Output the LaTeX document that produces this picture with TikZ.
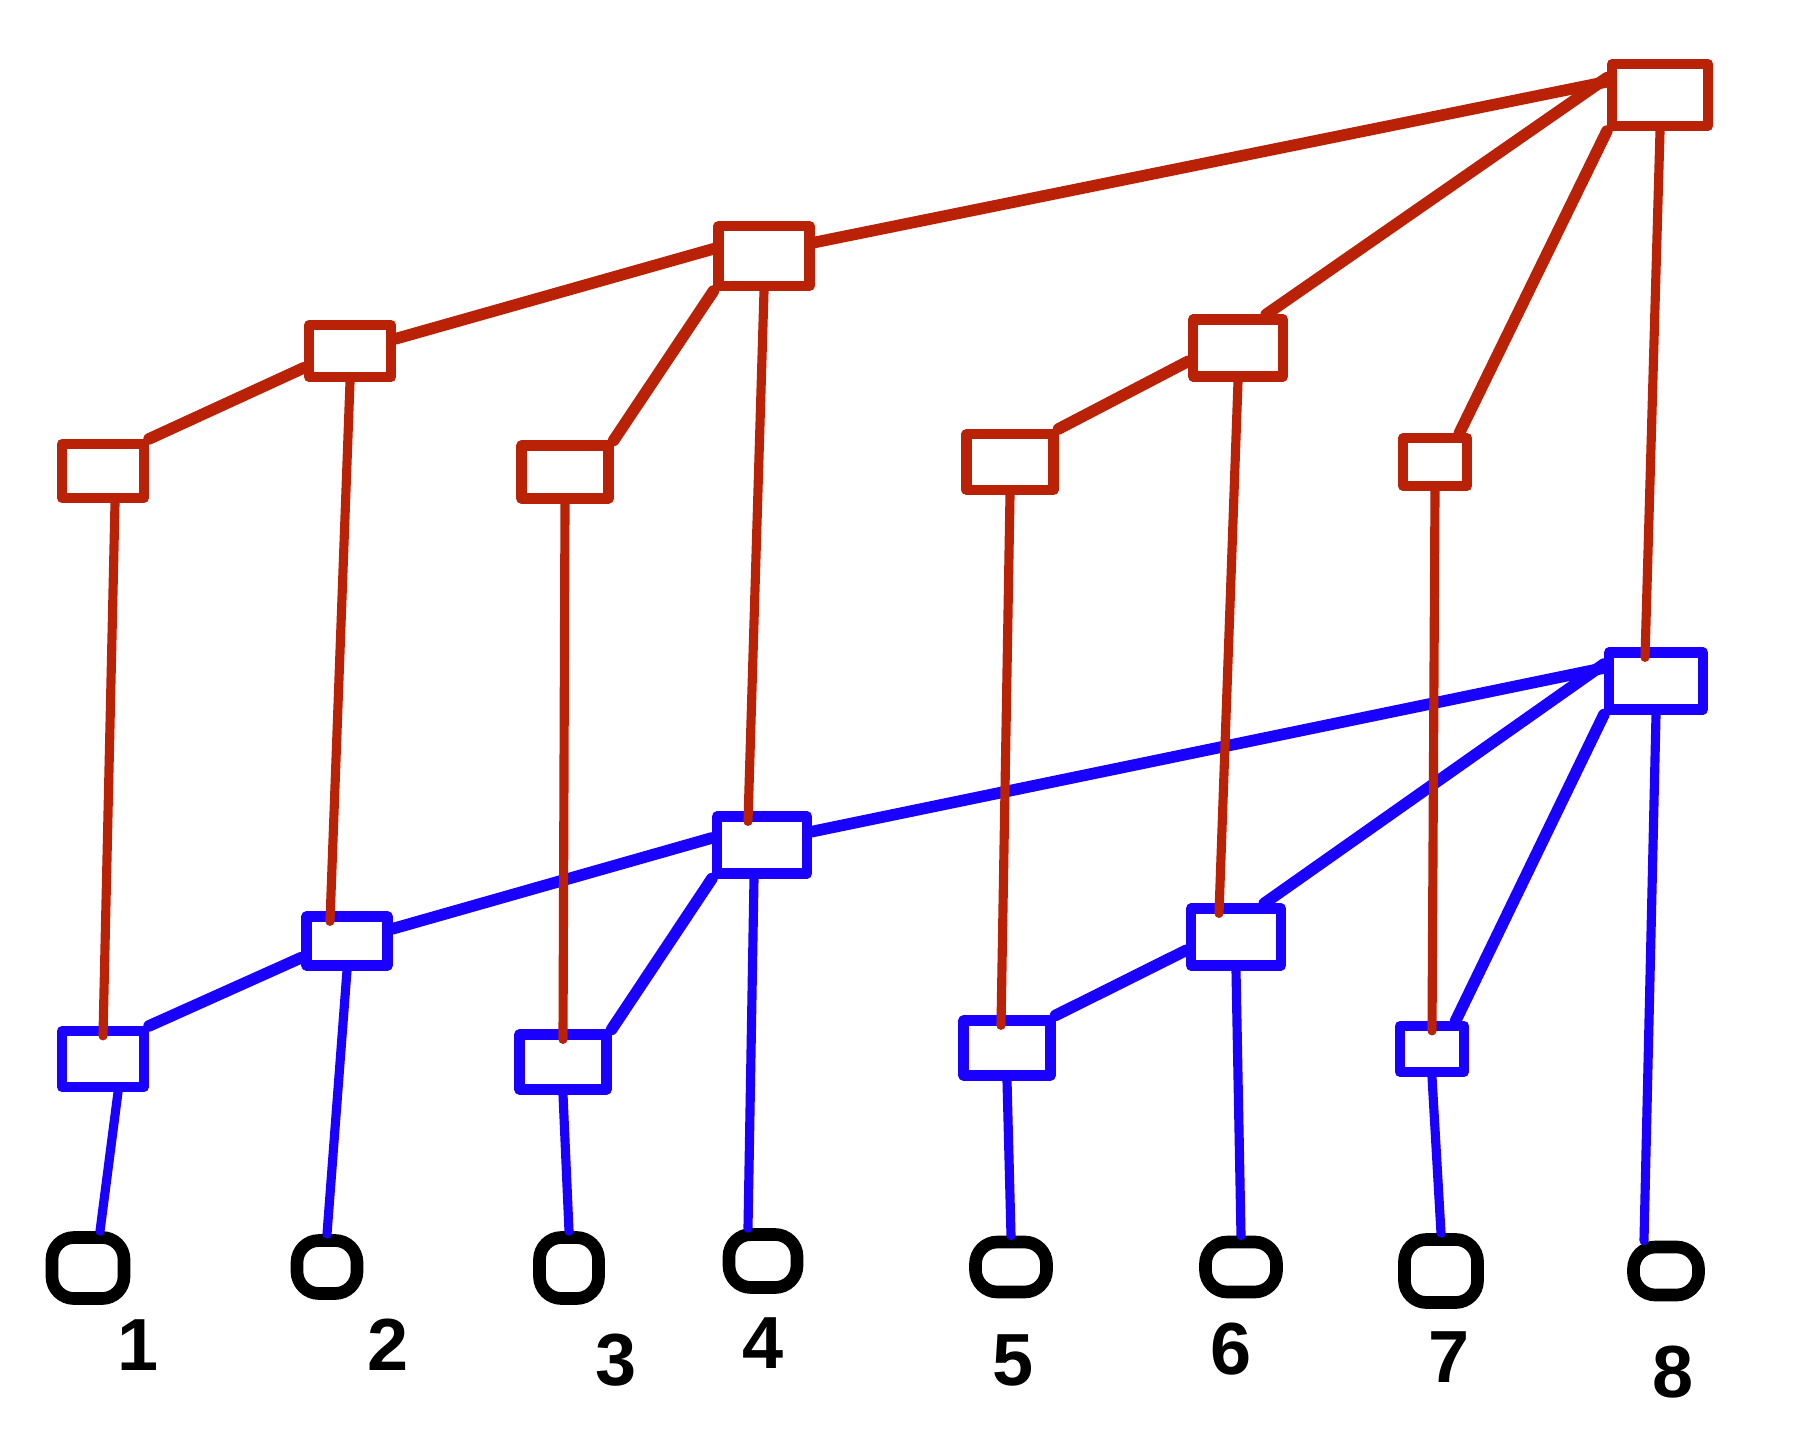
\documentclass[tikz,border=0pt]{standalone}
\usepackage{fontspec}
\setmainfont{Liberation Sans}
\usetikzlibrary{shapes.geometric}
\definecolor{tred}{RGB}{185,34,6}
\definecolor{tblue}{RGB}{26,0,255}
\begin{document}
\begin{tikzpicture}[x=0.01cm,y=-0.01cm,
  bluebox/.style={draw=tblue, line width=2.9pt, inner sep=0pt, line join=round},
  redbox/.style={draw=tred, line width=2.9pt, inner sep=0pt, line join=round},
  leaf/.style={rectangle, rounded corners=0.22cm, draw=black, line width=3.6pt, inner sep=0pt},
  lbl/.style={font=\fontsize{21}{24}\selectfont\bfseries, inner sep=0pt},
  bedge/.style={draw=tblue, line width=3.3pt, line cap=round},
  redge/.style={draw=tred, line width=3.3pt, line cap=round},
  bvert/.style={draw=tblue, line width=2.6pt, line cap=round},
  rvert/.style={draw=tred, line width=2.6pt, line cap=round},
]
\useasboundingbox (0,0) rectangle (1800,1440);

% blue boxes
\node[bluebox, minimum width=0.82cm, minimum height=0.56cm] (b1) at (103,1059) {};
\node[bluebox, minimum width=0.81cm, minimum height=0.49cm] (b2) at (347,941) {};
\node[bluebox, minimum width=0.87cm, minimum height=0.55cm] (b3) at (563,1062) {};
\node[bluebox, minimum width=0.90cm, minimum height=0.57cm] (b4) at (762,845) {};
\node[bluebox, minimum width=0.87cm, minimum height=0.55cm] (b5) at (1007,1048) {};
\node[bluebox, minimum width=0.90cm, minimum height=0.57cm] (b6) at (1236,937) {};
\node[bluebox, minimum width=0.64cm, minimum height=0.46cm] (b7) at (1432,1049) {};
\node[bluebox, minimum width=0.94cm, minimum height=0.57cm] (b8) at (1656,681) {};

% red boxes
\node[redbox, minimum width=0.82cm, minimum height=0.54cm] (r1) at (103,471) {};
\node[redbox, minimum width=0.82cm, minimum height=0.52cm] (r2) at (350,351) {};
\node[redbox, minimum width=0.87cm, minimum height=0.53cm] (r3) at (565,472) {};
\node[redbox, minimum width=0.91cm, minimum height=0.60cm] (r4) at (764,256) {};
\node[redbox, minimum width=0.87cm, minimum height=0.56cm] (r5) at (1010,462) {};
\node[redbox, minimum width=0.90cm, minimum height=0.57cm] (r6) at (1238,348) {};
\node[redbox, minimum width=0.64cm, minimum height=0.48cm] (r7) at (1435,462) {};
\node[redbox, minimum width=0.96cm, minimum height=0.62cm] (r8) at (1660,95) {};

% leaves
\node[leaf, minimum width=0.72cm, minimum height=0.61cm] (c1) at (88,1268) {};
\node[leaf, minimum width=0.60cm, minimum height=0.53cm] (c2) at (327,1267) {};
\node[leaf, minimum width=0.59cm, minimum height=0.61cm] (c3) at (569,1268) {};
\node[leaf, minimum width=0.68cm, minimum height=0.53cm] (c4) at (763,1261) {};
\node[leaf, minimum width=0.71cm, minimum height=0.50cm] (c5) at (1011,1267) {};
\node[leaf, minimum width=0.71cm, minimum height=0.50cm] (c6) at (1241,1267) {};
\node[leaf, minimum width=0.73cm, minimum height=0.63cm] (c7) at (1441,1271) {};
\node[leaf, minimum width=0.65cm, minimum height=0.48cm] (c8) at (1666,1271) {};

% labels
\node[lbl] (l1) at (138,1345) {1};
\node[lbl] (l2) at (388,1345) {2};
\node[lbl] (l3) at (616,1360) {3};
\node[lbl] (l4) at (763,1343) {4};
\node[lbl] (l5) at (1013,1360) {5};
\node[lbl] (l6) at (1231,1349) {6};
\node[lbl] (l7) at (1449,1357) {7};
\node[lbl] (l8) at (1673,1372) {8};

% blue tree edges
\draw[bedge] (b1.north east) -- (b2.200);
\draw[bedge] (b2.15) -- (b4.172);
\draw[bedge] (b3.north east) -- (b4.south west);
\draw[bedge] (b4.15) -- (b8.166);
\draw[bedge] (b5.north east) -- (b6.195);
\draw[bedge] (b6.50) -- (b8.162);
\draw[bedge] (b7.50) -- (b8.south west);

% blue leaf edges
\draw[bvert] ([xshift=0.15cm]b1.south) -- ([xshift=0.12cm]c1.north);
\draw[bvert] (b2.south) -- (c2.north);
\draw[bvert] (b3.south) -- (c3.north);
\draw[bvert] ([xshift=-0.08cm]b4.south) -- ([xshift=-0.15cm]c4.north);
\draw[bvert] (b5.south) -- (c5.north);
\draw[bvert] (b6.south) -- (c6.north);
\draw[bvert] (b7.south) -- (c7.north);
\draw[bvert] (b8.south) -- ([xshift=-0.22cm]c8.north);

% red tree edges
\draw[redge] (r1.north east) -- (r2.200);
\draw[redge] (r2.15) -- (r4.172);
\draw[redge] (r3.north east) -- (r4.south west);
\draw[redge] (r4.15) -- (r8.166);
\draw[redge] (r5.north east) -- (r6.195);
\draw[redge] (r6.50) -- (r8.162);
\draw[redge] (r7.50) -- (r8.south west);

% red verticals to blue boxes
\draw[rvert] ([xshift=0.12cm]r1.south) -- ([yshift=-0.1cm]b1.north);
\draw[rvert] (r2.south) -- ([xshift=-0.17cm,yshift=-0.1cm]b2.north);
\draw[rvert] (r3.south) -- ([yshift=-0.1cm]b3.north);
\draw[rvert] (r4.south) -- ([xshift=-0.14cm,yshift=-0.1cm]b4.north);
\draw[rvert] (r5.south) -- ([xshift=-0.06cm,yshift=-0.1cm]b5.north);
\draw[rvert] (r6.south) -- ([xshift=-0.17cm,yshift=-0.1cm]b6.north);
\draw[rvert] (r7.south) -- ([yshift=-0.1cm]b7.north);
\draw[rvert] (r8.south) -- ([xshift=-0.11cm,yshift=-0.1cm]b8.north);
\end{tikzpicture}
\end{document}
